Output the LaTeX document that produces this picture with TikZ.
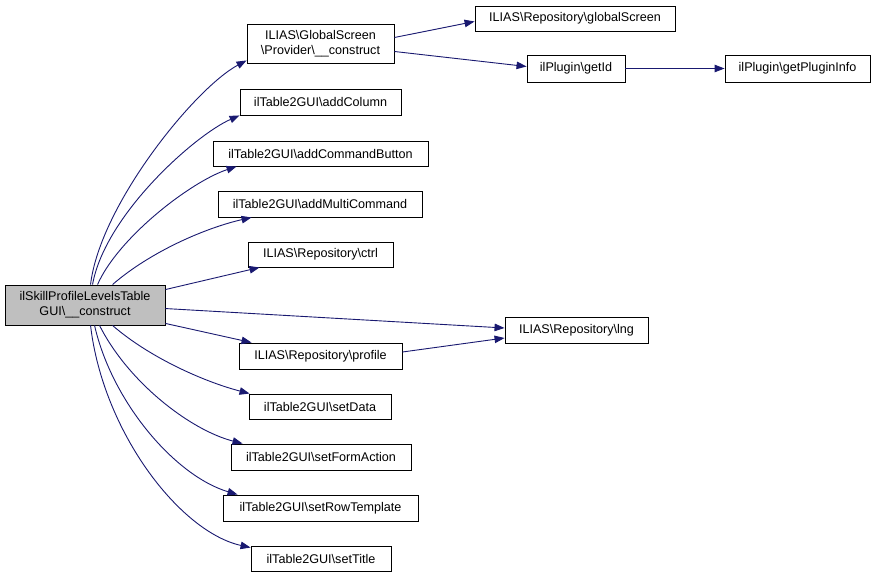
\documentclass[tikz,border=0pt]{standalone}
\usepackage{fontspec}
\setmainfont{Liberation Sans}
\usetikzlibrary{arrows.meta}
\definecolor{edgeblue}{RGB}{25,25,112}
\definecolor{mainfill}{RGB}{191,191,191}
\tikzset{
  fn/.style={draw=black, line width=0.9pt, fill=white, inner sep=0pt, anchor=center,
    font=\fontsize{12.6}{15}\selectfont, align=center},
  mainfn/.style={fn, fill=mainfill},
  call/.style={draw=edgeblue, line width=0.9pt, -{Triangle[length=10pt,width=7.5pt]}}
}
\begin{document}
\begin{tikzpicture}[x=1pt,y=-1pt]
\useasboundingbox (0,0) rectangle (875,577);
\node[mainfn, minimum width=160pt, minimum height=40pt] (main) at (85,305) {ilSkillProfileLevelsTable\\GUI\textbackslash\_\_construct};
\node[fn, minimum width=147pt, minimum height=39pt] (gs) at (320.5,43.5) {ILIAS\textbackslash GlobalScreen\\\textbackslash Provider\textbackslash\_\_construct};
\node[fn, minimum width=200pt, minimum height=25pt] (gscreen) at (575,18.5) {ILIAS\textbackslash Repository\textbackslash globalScreen};
\node[fn, minimum width=98pt, minimum height=27pt] (getid) at (576,68.5) {ilPlugin\textbackslash getId};
\node[fn, minimum width=145pt, minimum height=27pt] (info) at (797.5,68.5) {ilPlugin\textbackslash getPluginInfo};
\node[fn, minimum width=161pt, minimum height=26pt] (addcol) at (320.5,102) {ilTable2GUI\textbackslash addColumn};
\node[fn, minimum width=215pt, minimum height=25pt] (addcmd) at (320.5,153.5) {ilTable2GUI\textbackslash addCommandButton};
\node[fn, minimum width=204pt, minimum height=26pt] (addmulti) at (320,204) {ilTable2GUI\textbackslash addMultiCommand};
\node[fn, minimum width=145pt, minimum height=25pt] (ctrl) at (320.5,254.5) {ILIAS\textbackslash Repository\textbackslash ctrl};
\node[fn, minimum width=143pt, minimum height=26pt] (lng) at (576.5,330) {ILIAS\textbackslash Repository\textbackslash lng};
\node[fn, minimum width=163pt, minimum height=26pt] (profile) at (320.5,356) {ILIAS\textbackslash Repository\textbackslash profile};
\node[fn, minimum width=142pt, minimum height=25pt] (setdata) at (320,406.5) {ilTable2GUI\textbackslash setData};
\node[fn, minimum width=180pt, minimum height=26pt] (setform) at (321,457) {ilTable2GUI\textbackslash setFormAction};
\node[fn, minimum width=195pt, minimum height=26pt] (setrow) at (320.5,508) {ilTable2GUI\textbackslash setRowTemplate};
\node[fn, minimum width=140pt, minimum height=25pt] (settitle) at (321,558.5) {ilTable2GUI\textbackslash setTitle};

% upward curves
\draw[call] ([xshift=86pt]main.north west) .. controls (100,205) and (195,88) .. ([yshift=3pt]gs.south west);
\draw[call] ([xshift=88pt]main.north west) .. controls (105,215) and (195,135) .. ([xshift=0pt]addcol.south west);
\draw[call] ([xshift=93pt]main.north west) .. controls (118,238) and (190,182) .. ([xshift=24pt]addcmd.south west);
\draw[call] ([xshift=108pt]main.north west) .. controls (150,252) and (205,228) .. ([xshift=34pt]addmulti.south west);
\draw[call] ([yshift=-5pt]main.north east) -- ([xshift=12pt]ctrl.south west);
% right
\draw[call] ([yshift=-24pt]main.north east) -- ([yshift=2pt]lng.west);
\draw[call] ([yshift=2pt]main.south east) -- ([xshift=13pt]profile.north west);
% downward curves
\draw[call] ([xshift=108pt]main.south west) .. controls (150,358) and (205,382) .. ([xshift=1pt]setdata.north west);
\draw[call] ([xshift=95pt]main.south west) .. controls (128,382) and (190,430) .. ([xshift=12pt]setform.north west);
\draw[call] ([xshift=90pt]main.south west) .. controls (112,402) and (175,476) .. ([xshift=15pt]setrow.north west);
\draw[call] ([xshift=86pt]main.south west) .. controls (103,432) and (180,532) .. ([yshift=-2pt]settitle.north west);
% second level
\draw[call] ([yshift=6pt]gs.east) -- ([yshift=-3pt]gscreen.west);
\draw[call] ([yshift=-8pt]gs.east) -- ([yshift=2pt]getid.west);
\draw[call] (getid) -- (info);
\draw[call] ([yshift=4pt]profile.east) -- ([yshift=-8pt]lng.west);
\end{tikzpicture}
\end{document}
